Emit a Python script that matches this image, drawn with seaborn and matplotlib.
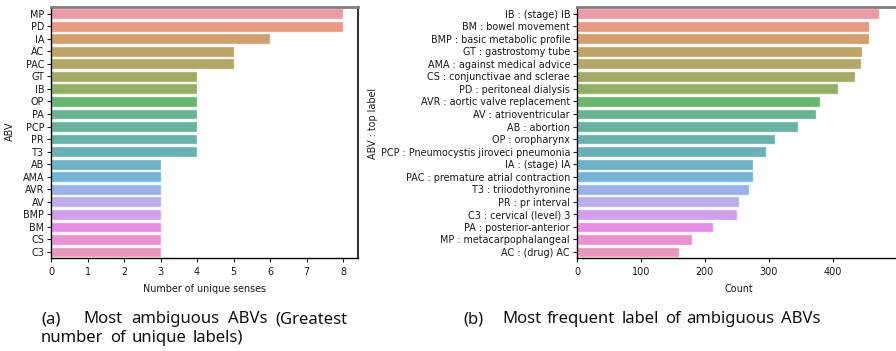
import matplotlib
matplotlib.use("Agg")
import matplotlib.pyplot as plt
import seaborn as sns
import pandas as pd

# ---- data ----
abv_a = ["MP", "PD", "IA", "AC", "PAC", "GT", "IB", "OP", "PA", "PCP", "PR", "T3",
         "AB", "AMA", "AVR", "AV", "BMP", "BM", "CS", "C3"]
senses_a = [8, 8, 6, 5, 5, 4, 4, 4, 4, 4, 4, 4, 3, 3, 3, 3, 3, 3, 3, 3]

labels_b = ["IB : (stage) IB", "BM : bowel movement", "BMP : basic metabolic profile",
            "GT : gastrostomy tube", "AMA : against medical advice",
            "CS : conjunctivae and sclerae", "PD : peritoneal dialysis",
            "AVR : aortic valve replacement", "AV : atrioventricular", "AB : abortion",
            "OP : oropharynx", "PCP : Pneumocystis jiroveci pneumonia", "IA : (stage) IA",
            "PAC : premature atrial contraction", "T3 : triiodothyronine", "PR : pr interval",
            "C3 : cervical (level) 3", "PA : posterior-anterior", "MP : metacarpophalangeal",
            "AC : (drug) AC"]
counts_b = [472, 456, 456, 446, 444, 435, 408, 380, 374, 345, 309, 295, 275, 275, 269,
            253, 250, 212, 180, 160]

caption_a_tag = "(a)"
caption_a1 = "Most ambiguous ABVs (Greatest"
caption_a2 = "number of unique labels)"
caption_b_tag = "(b)"
caption_b = "Most frequent label of ambiguous ABVs"

sns.set_style("white")
plt.rcParams["font.family"] = ["DejaVu Sans"]

W, H = 896, 351
fig = plt.figure(figsize=(W / 100, H / 100), dpi=100)

def pos(x0, x1, ytop, ybot):
    return [x0 / W, 1 - ybot / H, (x1 - x0) / W, (ybot - ytop) / H]

ax1 = fig.add_axes(pos(51, 357.7, 7.3, 258.3))
ax2 = fig.add_axes(pos(577, 900, 7.3, 258.3))

df_a = pd.DataFrame({"ABV": abv_a, "n": senses_a})
df_b = pd.DataFrame({"lab": labels_b, "c": counts_b})
pal = sns.color_palette("husl", 20)

sns.barplot(data=df_a, x="n", y="ABV", hue="ABV", palette=pal, legend=False,
            width=0.86, alpha=0.8, ax=ax1)
sns.barplot(data=df_b, x="c", y="lab", hue="lab", palette=pal, legend=False,
            width=0.86, alpha=0.8, ax=ax2)

ax1.set_xlim(0, 8.4)
ax1.set_xticks(range(0, 9))
ax2.set_xlim(0, 505)
ax2.set_xticks([0, 100, 200, 300, 400])

fs = 6.9
for ax in (ax1, ax2):
    ax.tick_params(axis="both", which="both", length=3, width=0.8, color="#222222",
                   labelsize=fs, pad=2, left=True, bottom=True, labelcolor="#1a1a1a")
    ax.tick_params(axis="x", pad=3.5)
    for s in ("left", "bottom"):
        ax.spines[s].set_color("black")
        ax.spines[s].set_linewidth(1.0)
    ax.spines["top"].set_color("#808080")
    ax.spines["top"].set_linewidth(2.0)
    ax.spines["right"].set_color("#333333")
    ax.spines["right"].set_linewidth(1.5)

ax1.set_xlabel("Number of unique senses", fontsize=fs, labelpad=5, color="#1a1a1a")
ax1.set_ylabel("ABV", fontsize=fs, color="#1a1a1a")
ax2.set_xlabel("Count", fontsize=fs, labelpad=5, color="#1a1a1a")
ax2.set_ylabel("ABV : top label", fontsize=fs, color="#1a1a1a")
ax1.yaxis.set_label_coords((15 - 51) / 306.7, (258.3 - 131) / 251)
ax2.yaxis.set_label_coords((378 - 577) / 323, (258.3 - 123) / 251)

cap_font = ["Noto Sans", "DejaVu Sans"]
cfs = 12
renderer = fig.canvas.get_renderer()

def put(text, x, y):
    return fig.text(x / W, 1 - y / H, text, family=cap_font, fontsize=cfs,
                    ha="left", va="baseline", color="#111111")

def justify(line, x0, x1, y):
    words = line.split()
    texts = [put(w, x0, y) for w in words]
    widths = [t.get_window_extent(renderer).width for t in texts]
    gap = (x1 - x0 - sum(widths)) / max(len(words) - 1, 1)
    x = x0
    for t, w in zip(texts, widths):
        t.set_x(x / W)
        x += w + gap

put(caption_a_tag, 41, 323)
justify(caption_a1, 83, 348, 323)
justify(caption_a2, 41, 243, 342)
put(caption_b_tag, 463, 323)
justify(caption_b, 502, 820, 323)

fig.savefig("out.png", dpi=100)
